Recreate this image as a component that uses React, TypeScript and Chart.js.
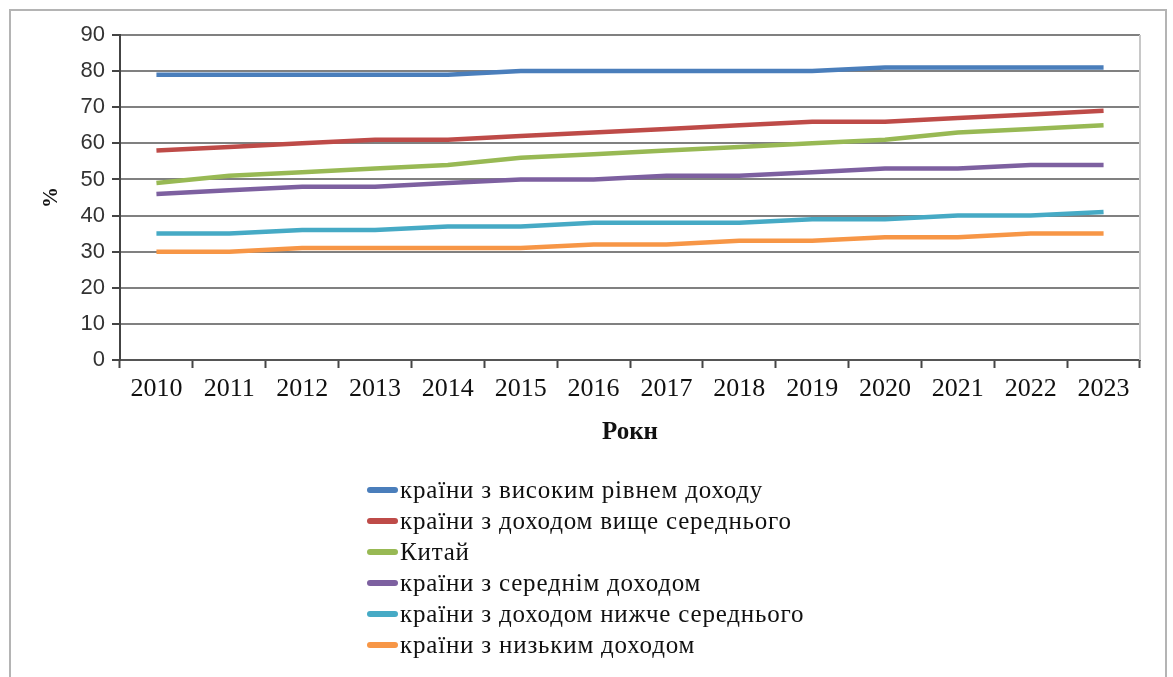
import React, { useEffect, useRef } from "react";
import { Chart, registerables } from "chart.js";

Chart.register(...registerables);

const years = ["2010", "2011", "2012", "2013", "2014", "2015", "2016", "2017", "2018", "2019", "2020", "2021", "2022", "2023"];
const seriesNames = [
  "країни з високим рівнем доходу",
  "країни з доходом вище середнього",
  "Китай",
  "країни з середнім доходом",
  "країни з доходом нижче середнього",
  "країни з низьким доходом",
];
const highIncome = [79, 79, 79, 79, 79, 80, 80, 80, 80, 80, 81, 81, 81, 81];
const upperMiddle = [58, 59, 60, 61, 61, 62, 63, 64, 65, 66, 66, 67, 68, 69];
const china = [49, 51, 52, 53, 54, 56, 57, 58, 59, 60, 61, 63, 64, 65];
const middleIncome = [46, 47, 48, 48, 49, 50, 50, 51, 51, 52, 53, 53, 54, 54];
const lowerMiddle = [35, 35, 36, 36, 37, 37, 38, 38, 38, 39, 39, 40, 40, 41];
const lowIncome = [30, 30, 31, 31, 31, 31, 32, 32, 33, 33, 34, 34, 35, 35];
const seriesColors = ["#4A7EBB", "#BE4B48", "#98B954", "#7D60A0", "#46AAC5", "#F79646"];
const yTitle = "%";
const xTitle = "Рокн";

const legendPlugin = {
  id: "verticalLegend",
  afterDraw(chart: any) {
    const ctx = chart.ctx;
    ctx.save();
    chart.data.datasets.forEach((ds: any, i: number) => {
      const y = 490 + i * 31;
      ctx.strokeStyle = ds.borderColor;
      ctx.lineWidth = 6;
      ctx.lineCap = "round";
      ctx.beginPath();
      ctx.moveTo(370, y);
      ctx.lineTo(395, y);
      ctx.stroke();
      ctx.fillStyle = "#111";
      ctx.font = "25px 'Liberation Serif'";
      try {
        (ctx as any).letterSpacing = "0.8px";
      } catch (e) {}
      ctx.textBaseline = "middle";
      ctx.textAlign = "left";
      ctx.fillText(ds.label, 400, y + 1);
    });
    ctx.restore();
  },
};

const borderPlugin = {
  id: "plotRightBorder",
  beforeDatasetsDraw(chart: any) {
    const { ctx, chartArea } = chart;
    ctx.save();
    ctx.strokeStyle = "#c8c8c8";
    ctx.lineWidth = 2;
    ctx.beginPath();
    ctx.moveTo(chartArea.right, chartArea.top);
    ctx.lineTo(chartArea.right, chartArea.bottom);
    ctx.stroke();
    ctx.restore();
  },
};

export default function App() {
  const ref = useRef<HTMLCanvasElement>(null);
  useEffect(() => {
    const values = [highIncome, upperMiddle, china, middleIncome, lowerMiddle, lowIncome];
    const chart = new Chart(ref.current!, {
      type: "line",
      data: {
        labels: years,
        datasets: values.map((v, i) => ({
          label: seriesNames[i],
          data: v,
          borderColor: seriesColors[i],
          backgroundColor: seriesColors[i],
          borderWidth: 4.5,
          pointRadius: 0,
          tension: 0,
          fill: false,
        })),
      },
      options: {
        animation: false,
        responsive: false,
        maintainAspectRatio: false,
        layout: { padding: { left: 0, right: 33, top: 35, bottom: 229 } },
        plugins: { legend: { display: false }, tooltip: { enabled: false } },
        scales: {
          x: {
            offset: true,
            grid: {
              offset: true,
              drawOnChartArea: false,
              drawTicks: true,
              tickLength: 8,
              tickColor: "#444",
              tickWidth: 2,
            },
            border: { color: "#555", width: 2 },
            ticks: {
              color: "#111",
              font: { family: "'Liberation Serif'", size: 26 },
              padding: 6,
              maxRotation: 0,
              autoSkip: false,
            },
            title: {
              display: true,
              text: xTitle,
              color: "#111",
              font: { family: "'Liberation Serif'", size: 25, weight: "bold" },
              padding: { top: 0, bottom: 0 },
            },
            afterFit: (scale: any) => {
              scale.height = 88;
            },
          },
          y: {
            min: 0,
            max: 90,
            ticks: {
              stepSize: 10,
              color: "#333",
              font: { family: "'Liberation Sans'", size: 22 },
              padding: 7,
            },
            grid: {
              color: "#808080",
              lineWidth: 2,
              drawTicks: true,
              tickLength: 8,
              tickColor: "#444",
            },
            border: { color: "#444", width: 2 },
            title: {
              display: true,
              text: yTitle,
              color: "#111",
              font: { family: "'Liberation Serif'", size: 21, weight: "bold" },
              padding: { top: 39, bottom: 0 },
            },
            afterFit: (scale: any) => {
              scale.width = 120;
            },
          },
        },
      },
      plugins: [borderPlugin, legendPlugin],
    });
    return () => chart.destroy();
  }, []);
  return (
    <div style={{ position: "fixed", left: 0, top: 0, width: 1173, height: 677, background: "#fff", overflow: "hidden" }}>
      <div style={{ position: "absolute", left: 9, top: 9, width: 1154, height: 720, border: "2px solid #b4b4b4" }} />
      <canvas ref={ref} width={1173} height={677} style={{ position: "absolute", left: 0, top: 0, width: 1173, height: 677 }} />
    </div>
  );
}
